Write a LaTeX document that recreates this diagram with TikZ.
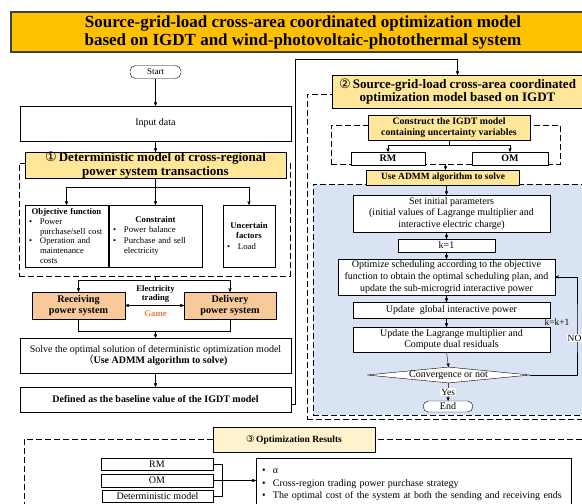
\documentclass[tikz,border=0pt]{standalone}
\usepackage{fontspec}
\setmainfont{Liberation Serif}
\newfontfamily\symfont{DejaVu Sans}
\newfontfamily\cjk{Noto Sans CJK SC}
\usepackage{xcolor}
\usetikzlibrary{arrows,shapes,positioning,calc}
\definecolor{titleyellow}{HTML}{FFC000}
\definecolor{lightyellow}{HTML}{FFE699}
\definecolor{paleyellow}{HTML}{FFF2CC}
\definecolor{lightorange}{HTML}{F8C99A}
\definecolor{gameorange}{HTML}{ED7D31}
\definecolor{paleblue}{HTML}{DAE3F3}
\newcommand{\bitem}[1]{\par\hangindent=12pt\hangafter=1\noindent\makebox[12pt][l]{\hspace{1pt}\textbullet}#1\par}
\newcommand{\ritem}[1]{\par\noindent\makebox[14pt][l]{\hspace{3pt}\textbullet}#1\par}

\begin{document}
\begin{tikzpicture}[>=stealth', x=1pt, y=-1pt,
  box/.style={draw, fill=white, inner sep=1pt, align=center, font=\fontsize{10}{11.8}\selectfont},
  ybox/.style={box, fill=lightyellow, font=\bfseries\fontsize{9.8}{11}\selectfont},
  headbox/.style={box, fill=lightyellow, inner sep=0pt, font=\bfseries\fontsize{13}{13.5}\selectfont},
  obox/.style={box, fill=lightorange, font=\bfseries\fontsize{10.2}{11.5}\selectfont},
  listbox/.style={box, inner xsep=3pt, inner ysep=1pt, align=left, font=\fontsize{8.7}{10.3}\selectfont},
  term/.style={box, rounded corners=5.5pt},
  grp/.style={draw, dash pattern=on 6pt off 3pt, line width=0.8pt, inner sep=0pt},
  lbl/.style={inner sep=1pt, align=center, font=\fontsize{9.5}{11}\selectfont}]
  \useasboundingbox (0,0) rectangle (582,504);
  \clip (0,0) rectangle (582,504);
  % title
  \node[draw=black!85!yellow, line width=1.2pt, fill=titleyellow, minimum width=584pt, minimum height=38pt,
        align=center, font=\bfseries\fontsize{17}{18}\selectfont] (title) at (303,32)
        {Source-grid-load cross-area coordinated optimization model\\based on IGDT and wind-photovoltaic-photothermal system};

  % part 1: deterministic model
  \node[grp, minimum width=271pt, minimum height=113pt] (grp1) at (154.5,219.5) {};
  \node[term, minimum width=51pt, minimum height=13pt, font=\fontsize{9}{10}\selectfont] (start) at (155.5,72) {Start};
  \node[box, minimum width=271pt, minimum height=35pt] (input) at (155.5,123.5) {Input data};
  \node[headbox, minimum width=261pt, minimum height=26pt] (det) at (155.5,165)
        {{\symfont\mdseries ①}\,Deterministic model of cross-regional\\power system transactions};
  \node[listbox, text width=77pt, minimum height=62pt, font=\fontsize{8.7}{9.8}\selectfont] (obj) at (66.5,236)
        {{\centering\textbf{Objective function}\par}\bitem{Power\newline purchase/sell cost}\bitem{Operation and\newline maintenance\newline costs}};
  \node[listbox, text width=87pt, minimum height=62pt] (cons) at (155.5,236)
        {{\centering\textbf{Constraint}\par}\bitem{Power balance}\bitem{Purchase and sell\newline electricity}};
  \node[listbox, text width=46pt, minimum height=62pt] (unc) at (249,236)
        {{\centering\textbf{Uncertain\\factors}\par}\bitem{Load}};
  \node[obox, minimum width=93pt, minimum height=27pt] (recv) at (78.5,305.5) {Receiving\\power system};
  \node[obox, minimum width=92pt, minimum height=27pt] (deliv) at (230,305.5) {Delivery\\power system};
  \node[lbl, font=\bfseries\fontsize{8.6}{9.6}\selectfont] (trade) at (155.5,294) {Electricity\\trading};
  \node[lbl, font=\bfseries\fontsize{8.8}{10}\selectfont, text=gameorange] (game) at (155.5,314) {Game};
  \node[box, minimum width=271pt, minimum height=35pt] (solve) at (155.5,355.5)
        {Solve the optimal solution of deterministic optimization model\\{\cjk （}\textbf{Use ADMM algorithm to solve)}};
  \node[box, minimum width=271pt, minimum height=25pt, font=\bfseries\fontsize{10}{11}\selectfont] (base) at (155.5,399.5)
        {Defined as the baseline value of the IGDT model};
  % connectors of part 1
  \draw[->] (start) -- (input);
  \draw[->] (input) -- (det);
  \draw (det.south) -- ++(0,9) coordinate (split1);
  \draw[->] (split1) -| (obj.north);
  \draw[->] (split1) -- (cons.north);
  \draw[->] (split1) -| (unc.north);
  \draw (grp1.south -| det.south) -- ++(0,4) coordinate (split2);
  \draw[->] (split2) -| (recv.north);
  \draw[->] (split2) -| (deliv.north);
  \draw[<->] (recv.east) -- (deliv.west);
  \draw (recv.south) -- ++(0,12) coordinate (join1) -| (deliv.south);
  \draw[->] (join1 -| solve.north) -- (solve.north);
  \draw[->] (solve) -- (base);

  % part 2: IGDT model
  \node[grp, minimum width=293pt, minimum height=325pt] (grp2) at (453.5,256.5) {};
  \node[headbox, minimum width=251pt, minimum height=33pt] (box2) at (457.5,91.5)
        {{\symfont\mdseries ②}\,Source-grid-load cross-area coordinated\\optimization model based on IGDT};
  \coordinate (loop1) at (295,59);
  \draw[->] ([yshift=-4.5pt]base.east) -| (loop1) -| (box2.north);
  \node[grp, minimum width=229pt, minimum height=39pt] (grp3) at (445.5,144.5) {};
  \node[ybox, minimum width=162pt, minimum height=25pt] (igdt) at (449,127.5)
        {Construct the IGDT model\\containing uncertainty variables};
  \node[box, minimum width=74pt, minimum height=13pt, font=\bfseries\fontsize{10}{11}\selectfont] (rm1) at (388,158.5) {RM};
  \node[box, minimum width=76pt, minimum height=13pt, font=\bfseries\fontsize{10}{11}\selectfont] (om1) at (510,158.5) {OM};
  \draw (igdt.south) -- ++(0,5) coordinate (split3);
  \draw[->] (split3) -| (rm1.north);
  \draw[->] (split3) -| (om1.north);
  % ADMM loop
  \node[grp, fill=paleblue, minimum width=287pt, minimum height=231pt] (admmgrp) at (456.5,299.5) {};
  \node[ybox, minimum width=153pt, minimum height=15pt, font=\bfseries\fontsize{9.5}{11}\selectfont] (admm) at (443,177.5) {Use ADMM algorithm to solve};
  \draw[->] (grp3.south) -- (grp3.south |- admm.north);
  \node[box, minimum width=197pt, minimum height=37pt] (init) at (451.5,213.5)
        {Set initial parameters\\(initial values of Lagrange multiplier and\\interactive electric charge)};
  \node[box, minimum width=97pt, minimum height=13pt] (k1) at (446.5,245.5) {k=1};
  \node[box, minimum width=217pt, minimum height=36pt] (optim) at (446.5,277)
        {Optimize scheduling according to the objective\\function to obtain the optimal scheduling plan, and\\update the sub-microgrid interactive power};
  \node[box, minimum width=197pt, minimum height=16pt] (glob) at (451.5,310) {Update\ \ global interactive power};
  \node[box, minimum width=197pt, minimum height=25pt] (lagr) at (451.5,339.5)
        {Update the Lagrange multiplier and\\Compute dual residuals};
  \node[box, diamond, aspect=10, inner sep=0pt, minimum width=163pt, minimum height=16pt] (conv) at (448.5,375)
        {\makebox[0pt]{Convergence or not}};
  \node[term, minimum width=50pt, minimum height=11pt] (finish) at (448,406.5) {End};
  \draw[->] (admm.south -| k1) -- (init.north -| k1);
  \draw[->] (init.south -| k1) -- (k1.north);
  \draw[->] (k1) -- (optim);
  \draw[->] (optim.south) -- (glob.north -| optim.south);
  \draw[->] (glob.south -| optim.south) -- (lagr.north -| optim.south);
  \draw[->] (lagr.south -| optim.south) -- (conv.north);
  \draw[->] (conv) -- node[lbl, fill=white] (yes) {Yes} (finish);
  \coordinate (loop2) at (577,330);
  \draw[->] (conv.east) -| (loop2) |- (optim.east);
  \node[lbl] (kk) at (557,322) {k=k+1};
  \node[lbl, fill=white] (no) at (574.5,338) {NO};

  % part 3: results
  \node[grp, minimum width=576pt, minimum height=81pt] (grp4) at (312,479.5) {};
  \node[box, fill=paleyellow, minimum width=162pt, minimum height=25pt, font=\bfseries\fontsize{9.5}{11}\selectfont] (res) at (294,439.5)
        {{\symfont\mdseries ③}\,Optimization Results};
  \node[box, minimum width=112pt, minimum height=12pt] (rm2) at (157,464) {RM};
  \node[box, minimum width=112pt, minimum height=13pt] (om2) at (157,480.5) {OM};
  \node[box, minimum width=111pt, minimum height=12pt] (det2) at (157.5,496) {Deterministic model};
  \node[box, align=left, inner xsep=3pt, inner ysep=2pt, text width=309pt, minimum height=46pt, font=\fontsize{10}{12.3}\selectfont] (out) at (413.5,481)
        {\ritem{α}\ritem{Cross-region trading power purchase strategy}\ritem{The optimal cost of the system at both the sending and receiving ends}};
  \draw (rm2.east) -- ++(9,0) |- (det2.east);
  \draw[->] (om2.east) -- (out.west |- om2.east);
\end{tikzpicture}
\end{document}
